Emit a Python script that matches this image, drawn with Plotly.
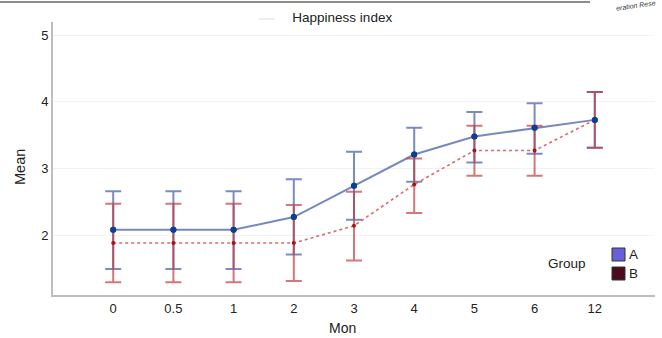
import plotly.graph_objects as go

months = ["0", "0.5", "1", "2", "3", "4", "5", "6", "12"]

a_mean = [2.08, 2.08, 2.08, 2.27, 2.74, 3.21, 3.48, 3.61, 3.73]
a_upper = [2.66, 2.66, 2.66, 2.84, 3.25, 3.61, 3.85, 3.98, 4.15]
a_lower = [1.49, 1.49, 1.49, 1.71, 2.23, 2.80, 3.09, 3.22, 3.31]

b_mean = [1.88, 1.88, 1.88, 1.88, 2.14, 2.76, 3.27, 3.27, 3.73]
b_upper = [2.47, 2.47, 2.47, 2.45, 2.65, 3.15, 3.64, 3.64, 4.15]
b_lower = [1.29, 1.29, 1.29, 1.31, 1.62, 2.33, 2.89, 2.89, 3.31]

groups = ["A", "B"]
legend_colors = ["#6a5fd8", "#4d0a1e"]

font_family = "Liberation Sans, Arial, sans-serif"

fig = go.Figure()

fig.add_trace(go.Scatter(
    x=months, y=a_mean, mode="lines+markers", showlegend=False, name="A",
    line=dict(color="rgba(95,115,180,0.85)", width=2),
    marker=dict(color="#0b3f91", size=6),
    error_y=dict(type="data", symmetric=False,
                 array=[u - m for u, m in zip(a_upper, a_mean)],
                 arrayminus=[m - l for m, l in zip(a_mean, a_lower)],
                 color="rgba(90,110,175,0.8)", thickness=2, width=8),
))
fig.add_trace(go.Scatter(
    x=months, y=b_mean, mode="lines+markers", showlegend=False, name="B",
    line=dict(color="rgba(215,90,90,0.9)", width=1.6, dash="dot"),
    marker=dict(color="#a51515", size=4),
    error_y=dict(type="data", symmetric=False,
                 array=[u - m for u, m in zip(b_upper, b_mean)],
                 arrayminus=[m - l for m, l in zip(b_mean, b_lower)],
                 color="rgba(195,60,65,0.7)", thickness=2, width=8),
))
# blue markers on top
fig.add_trace(go.Scatter(
    x=months, y=a_mean, mode="markers", showlegend=False, hoverinfo="skip",
    marker=dict(color="#0b3f91", size=6),
))

# plot area in pixels: x 53..655, y 22..295
def px(x):
    return (x - 53) / 602

def py(y):
    return (295 - y) / 273

shapes = [
    dict(type="line", xref="paper", yref="paper",
         x0=px(0), x1=px(590), y0=py(2), y1=py(2),
         line=dict(color="#8c8c8c", width=2)),
    dict(type="line", xref="paper", yref="paper",
         x0=px(259), x1=px(275), y0=py(19), y1=py(19),
         line=dict(color="#dddddd", width=1)),
]
annotations = [
    dict(text="Group", xref="paper", yref="paper",
         x=px(567), y=py(263), xanchor="center", yanchor="middle",
         showarrow=False, font=dict(size=13.5, color="#222222")),
    dict(text="Mon", xref="paper", yref="paper",
         x=px(342), y=py(328), xanchor="center", yanchor="middle",
         showarrow=False, font=dict(size=14, color="#222222")),
    dict(text="Mean", xref="paper", yref="paper", textangle=-90,
         x=px(20), y=py(167), xanchor="center", yanchor="middle",
         showarrow=False, font=dict(size=14.5, color="#222222")),
    dict(text="<i>eration Rese</i>", xref="paper", yref="paper", textangle=-8,
         x=px(636), y=py(6), xanchor="center", yanchor="middle",
         showarrow=False, font=dict(size=7, color="#333333")),
]
legend_tops = [248, 267]
for g, c, top in zip(groups, legend_colors, legend_tops):
    shapes.append(dict(type="rect", xref="paper", yref="paper",
                       x0=px(612), x1=px(625), y0=py(top + 13), y1=py(top),
                       fillcolor=c, line=dict(color="#333333", width=1)))
    annotations.append(dict(text=g, xref="paper", yref="paper",
                            x=px(627), y=py(top + 6.5), xanchor="left",
                            yanchor="middle", showarrow=False,
                            font=dict(size=13.5, color="#222222")))

fig.update_layout(
    width=662, height=338,
    margin=dict(l=53, r=7, t=22, b=43, autoexpand=False),
    paper_bgcolor="white", plot_bgcolor="white",
    font=dict(family=font_family, size=13, color="#222222"),
    showlegend=False,
    title=dict(text="Happiness index", x=0.517, xanchor="center",
               y=0.95, yanchor="middle", font=dict(size=13.5, color="#222222")),
    xaxis=dict(type="category", range=[-1, 9], showgrid=False,
               showline=True, linecolor="#bdbdbd", linewidth=2,
               ticks="", automargin=False,
               tickfont=dict(size=13), zeroline=False),
    yaxis=dict(range=[1.1, 5.2], tickvals=[2, 3, 4, 5],
               showgrid=True, gridcolor="#f2f2f2", gridwidth=1,
               showline=True, linecolor="#bdbdbd", linewidth=2,
               ticks="", automargin=False,
               tickfont=dict(size=13), zeroline=False),
    annotations=annotations,
    shapes=shapes,
)

fig.write_html("out.html",
               config={"displayModeBar": False},
               post_script="document.body.style.margin='0';"
                           "document.body.style.overflow='hidden';")
